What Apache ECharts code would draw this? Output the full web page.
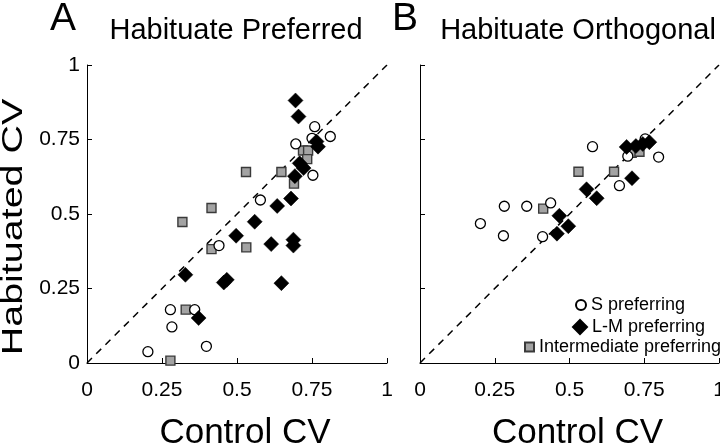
<!DOCTYPE html>
<html><head><meta charset="utf-8">
<script src="https://cdn.jsdelivr.net/npm/echarts@6/dist/echarts.min.js"></script>
<style>html,body{margin:0;padding:0;background:#fff}#c{width:720px;height:445px}</style>
</head><body><div id="c"></div><script>
// ---- data ----
var tickValues = [0, 0.25, 0.5, 0.75, 1];
var panelTitles = ['Habituate Preferred', 'Habituate Orthogonal'];
var panelLetters = ['A', 'B'];
var seriesNames = ['S preferring', 'L-M preferring', 'Intermediate preferring'];
var xAxisName = 'Control CV';
var yAxisName = 'Habituated CV';

var prefS = [[0.759,0.793],[0.750,0.754],[0.811,0.760],[0.696,0.735],[0.753,0.630],[0.578,0.547],[0.440,0.394],[0.278,0.179],[0.359,0.179],[0.283,0.121],[0.203,0.038],[0.398,0.056]];
var prefLM = [[0.695,0.881],[0.705,0.827],[0.765,0.743],[0.770,0.726],[0.709,0.670],[0.722,0.654],[0.693,0.627],[0.680,0.552],[0.634,0.527],[0.559,0.474],[0.497,0.427],[0.614,0.399],[0.688,0.414],[0.688,0.394],[0.328,0.296],[0.456,0.270],[0.466,0.279],[0.648,0.268],[0.372,0.151]];
var prefI = [[0.530,0.641],[0.648,0.641],[0.720,0.713],[0.737,0.713],[0.734,0.684],[0.690,0.602],[0.415,0.520],[0.318,0.473],[0.415,0.382],[0.531,0.388],[0.329,0.179],[0.278,0.008]];

var orthS = [[0.202,0.468],[0.279,0.427],[0.282,0.526],[0.357,0.526],[0.437,0.537],[0.410,0.424],[0.577,0.726],[0.667,0.595],[0.695,0.694],[0.753,0.752],[0.798,0.691]];
var orthLM = [[0.691,0.725],[0.722,0.728],[0.745,0.735],[0.767,0.741],[0.709,0.620],[0.557,0.583],[0.591,0.553],[0.466,0.494],[0.496,0.459],[0.458,0.434]];
var orthI = [[0.530,0.642],[0.649,0.642],[0.412,0.518],[0.708,0.705],[0.734,0.709]];

var identity = [[0,0],[1,1]];

// ---- chart ----
var FONT = 'Liberation Sans, Arial, Helvetica, sans-serif';
var chart = echarts.init(document.getElementById('c'), null, {renderer:'canvas'});

var styleS = {symbol:'circle', symbolSize:10, itemStyle:{color:'#ffffff', borderColor:'#000', borderWidth:1.3, opacity:1}};
var styleLM = {symbol:'diamond', symbolSize:15, itemStyle:{color:'#000000', borderColor:'#000', borderWidth:0.5, opacity:1}};
var styleI = {symbol:'rect', symbolSize:9, itemStyle:{color:'#a3a3a3', borderColor:'#3a3a3a', borderWidth:1.4, opacity:1}};

function mkScatter(name, data, idx, st, z){
  return {type:'scatter', name:name, data:data, xAxisIndex:idx, yAxisIndex:idx,
    symbol:st.symbol, symbolSize:st.symbolSize, itemStyle:st.itemStyle, z:z,
    emphasis:{disabled:true}, animation:false};
}
function mkDiag(idx){
  return {type:'line', data:identity, xAxisIndex:idx, yAxisIndex:idx, showSymbol:false, symbol:'none',
    lineStyle:{color:'#000', width:1.5, type:[7,6]}, z:1, silent:true, animation:false};
}
function mkX(idx){
  return {gridIndex:idx, type:'value', min:tickValues[0], max:tickValues[tickValues.length-1], interval:0.25,
    axisLine:{lineStyle:{color:'#000', width:1}},
    axisTick:{inside:true, length:5, lineStyle:{color:'#000'}},
    splitLine:{show:false},
    axisLabel:{color:'#000', fontSize:21, fontFamily:FONT, margin:17, showMinLabel:true, showMaxLabel:true},
    name:xAxisName, nameLocation:'middle', nameGap:53,
    nameTextStyle:{color:'#000', fontSize:35, fontFamily:FONT, padding:[0,0,0,16]}};
}
function mkY(idx){
  return {gridIndex:idx, type:'value', min:tickValues[0], max:tickValues[tickValues.length-1], interval:0.25,
    axisLine:{show:true, lineStyle:{color:'#000', width:1}},
    axisTick:{show:true, inside:true, length:5, lineStyle:{color:'#000'}},
    splitLine:{show:false},
    axisLabel:{show: idx===0, color:'#000', fontSize:21, fontFamily:FONT, margin:7, showMinLabel:true, showMaxLabel:true}};
}
function mkLegend(name, left, top, w, h){
  return {data:[name], left:left, top:top, orient:'vertical', padding:0, itemWidth:w, itemHeight:h,
    selectedMode:false, textStyle:{color:'#000', fontSize:18, fontFamily:FONT}};
}

var option = {
  backgroundColor:'#fff',
  animation:false,
  grid:[
    {left:87, top:65, width:300, height:298, outerBoundsMode:'none', containLabel:false},
    {left:420, top:65, width:299, height:298, outerBoundsMode:'none', containLabel:false}
  ],
  xAxis:[mkX(0), mkX(1)],
  yAxis:[mkY(0), mkY(1)],
  legend:[
    mkLegend(seriesNames[0], 575, 296, 10, 10),
    mkLegend(seriesNames[1], 572, 318, 14, 14),
    mkLegend(seriesNames[2], 524, 338, 9, 9)
  ],
  graphic:[
    {type:'text', left:50, top:0, style:{text:panelLetters[0], font:'39px '+FONT, fill:'#000'}},
    {type:'text', left:392, top:0, style:{text:panelLetters[1], font:'39px '+FONT, fill:'#000'}},
    {type:'text', x:236, y:31, style:{text:panelTitles[0], font:'29px '+FONT, fill:'#000', align:'center', verticalAlign:'middle'}},
    {type:'text', x:578, y:31, style:{text:panelTitles[1], font:'29px '+FONT, fill:'#000', align:'center', verticalAlign:'middle'}},
    {type:'text', x:14, y:227, rotation:Math.PI/2, scaleX:1.36, scaleY:1,
      style:{text:yAxisName, font:'29px '+FONT, fill:'#000', align:'center', verticalAlign:'middle'}}
  ],
  series:[
    mkDiag(0),
    mkScatter(seriesNames[2], prefI, 0, styleI, 2),
    mkScatter(seriesNames[0], prefS, 0, styleS, 3),
    mkScatter(seriesNames[1], prefLM, 0, styleLM, 4),
    mkDiag(1),
    mkScatter(seriesNames[2], orthI, 1, styleI, 2),
    mkScatter(seriesNames[0], orthS, 1, styleS, 3),
    mkScatter(seriesNames[1], orthLM, 1, styleLM, 4)
  ]
};
chart.setOption(option);
</script></body></html>
